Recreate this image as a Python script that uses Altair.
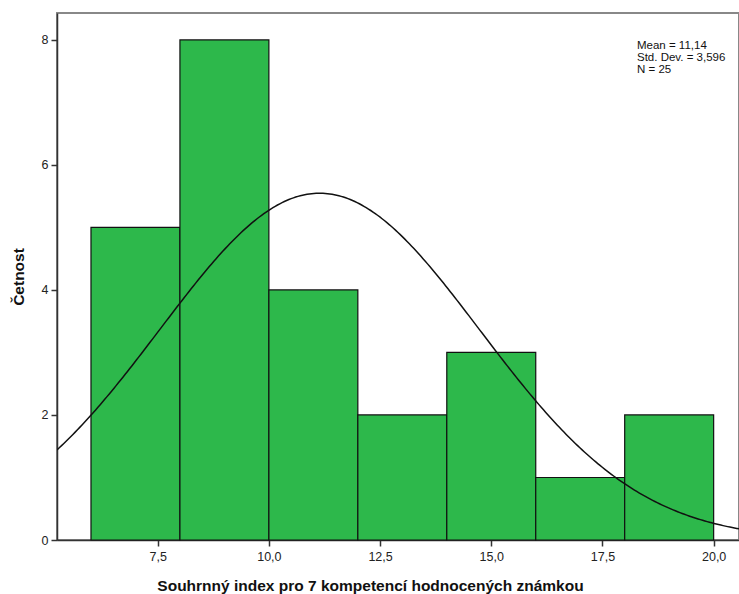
import math
import altair as alt
import pandas as pd

# Histogram bins (lower / upper edge) and frequencies
bin_lo = [6, 8, 10, 12, 14, 16, 18]
bin_hi = [8, 10, 12, 14, 16, 18, 20]
counts = [5, 8, 4, 2, 3, 1, 2]

# Summary statistics shown in the legend box
mean = 11.14
sd = 3.596
n = 25
bin_width = 2

x_ticks = [7.5, 10.0, 12.5, 15.0, 17.5, 20.0]
y_ticks = [0, 2, 4, 6, 8]

x_dom = [5.236, 20.57]
y_dom = [0, 8.43]

bars_df = pd.DataFrame({"lo": bin_lo, "hi": bin_hi, "count": counts})

# Fitted normal curve scaled to the histogram counts
xs = [x_dom[0] + i * (x_dom[1] - x_dom[0]) / 300 for i in range(301)]
scale_k = n * bin_width / (sd * math.sqrt(2 * math.pi))
curve_df = pd.DataFrame({
    "x": xs,
    "y": [scale_k * math.exp(-0.5 * ((v - mean) / sd) ** 2) for v in xs],
})

font = "Liberation Sans"

x_scale = alt.Scale(domain=x_dom, nice=False, zero=False)
y_scale = alt.Scale(domain=y_dom, nice=False)

x_axis = alt.Axis(
    values=x_ticks,
    title="Souhrnný index pro 7 kompetencí hodnocených známkou",
    labelExpr="replace(format(datum.value, '.1f'), '.', ',')",
    grid=False, tickSize=6, tickColor="#333333", domainColor="#333333",
    domainWidth=1.5, tickWidth=1.5,
    labelFont=font, labelFontSize=12.5, labelColor="#222222", labelPadding=4,
    titleFont=font, titleFontSize=15.5, titleFontWeight="bold",
    titleColor="#111111", titleX=313, titleY=50,
    titleBaseline="alphabetic", titleAlign="center",
)
y_axis = alt.Axis(
    values=y_ticks, title="Četnost", format="d",
    grid=False, tickSize=6, tickColor="#333333", domainColor="#333333",
    domainWidth=1.5, tickWidth=1.5,
    labelFont=font, labelFontSize=12.5, labelColor="#222222", labelPadding=3,
    titleFont=font, titleFontSize=15.5, titleFontWeight="bold",
    titleColor="#111111", titlePadding=15,
)

bars = alt.Chart(bars_df).mark_rect(
    color="#2db84b", stroke="#111111", strokeWidth=1.2
).encode(
    x=alt.X("lo:Q", scale=x_scale, axis=x_axis),
    x2="hi:Q",
    y=alt.Y("count:Q", scale=y_scale, axis=y_axis),
    y2=alt.datum(0),
)

curve = alt.Chart(curve_df).mark_line(
    color="#111111", strokeWidth=1.5, clip=True
).encode(
    x=alt.X("x:Q", scale=x_scale),
    y=alt.Y("y:Q", scale=y_scale),
)

stats_lines = [
    "Mean = " + f"{mean:.2f}".replace(".", ","),
    "Std. Dev. = " + f"{sd:.3f}".replace(".", ","),
    f"N = {n}",
]

stats = alt.Chart(pd.DataFrame({"t": [0]})).mark_text(
    align="left", baseline="top", font=font, fontSize=11.5,
    lineHeight=12, color="#111111", text=stats_lines,
).encode(x=alt.value(580), y=alt.value(27))

chart = (bars + curve + stats).properties(
    width=682, height=527,
    autosize=alt.AutoSizeParams(type="none"),
    padding={"left": 57, "top": 13, "right": 0, "bottom": 54},
    background="white",
).configure_view(stroke="#888888", strokeWidth=2)

chart.save("out.html", embed_options={"renderer": "svg", "actions": False})
